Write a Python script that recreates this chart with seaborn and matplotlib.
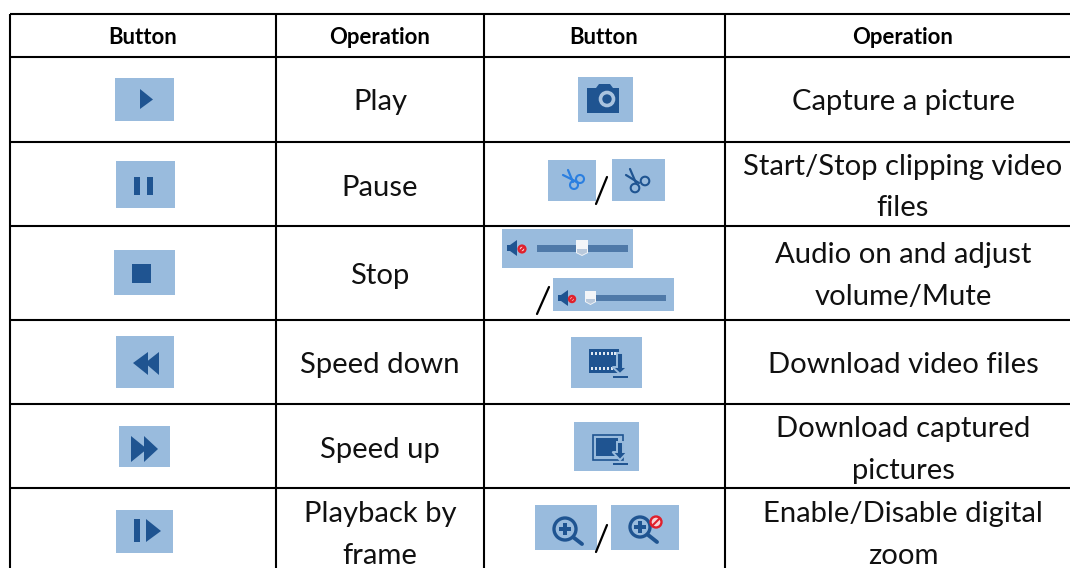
"""Button / Operation table"""

import matplotlib.pyplot as plt
from matplotlib.patches import Polygon, Rectangle, Circle
import seaborn as sns

headers = ["Button", "Operation", "Button", "Operation"]
left_ops = ["Play", "Pause", "Stop", "Speed down", "Speed up", "Playback by\nframe"]
right_ops = ["Capture a picture", "Start/Stop clipping video\nfiles", "Audio on and adjust\nvolume/Mute",
             "Download video files", "Download captured\npictures", "Enable/Disable digital\nzoom"]

col_edges = [10, 276, 484, 725]
row_edges = [14, 57, 142, 226, 320, 404, 488]
header_x = [143, 380, 604, 903]
row_y = [102, 187.5, 276, 365, 450, 535]

# x0, y0, x1, y1 of the light blue button boxes
left_boxes = [(115, 78, 174, 121), (116, 161, 175, 208), (114, 250, 175, 295),
              (116, 336, 174, 388), (119, 426, 170, 467), (116, 510, 173, 553)]
right_boxes = [(578, 77, 633, 122), (548, 160, 596, 201), (612, 159, 665, 201),
               (502, 229, 633, 268), (553, 278, 674, 311), (571, 337, 642, 388),
               (574, 422, 639, 471), (535, 505, 597, 550), (611, 505, 679, 550)]
slashes = [(596, 204, 607, 177), (537, 314, 549, 287), (596, 552, 607, 525)]

BOX = "#99bbdd"
DARK = "#1f5491"
RED = "#e0202c"

sns.set_theme(style="white")
plt.rcParams['font.family'] = ['Lato', 'DejaVu Sans']

fig, ax = plt.subplots(figsize=(10.70, 5.68), dpi=100)
fig.subplots_adjust(left=0, right=1, top=1, bottom=0)
ax.set_xlim(0, 1070)
ax.set_ylim(568, 0)
ax.axis("off")

ax.vlines(col_edges, row_edges[0], 568, color="black", lw=1.5)
ax.hlines(row_edges, col_edges[0], 1070, color="black", lw=1.5)

for x, h in zip(header_x, headers):
    ax.text(x, 37, h, ha="center", va="center", fontsize=15.9, fontweight="bold", color="black")

for i in range(6):
    ax.text(380, row_y[i], left_ops[i], ha="center", va="center", fontsize=21.1, color="#111111", linespacing=1.72)
    ax.text(903, row_y[i], right_ops[i], ha="center", va="center", fontsize=21.1, color="#111111", linespacing=1.72)

for x0, y0, x1, y1 in left_boxes + right_boxes:
    ax.add_patch(Rectangle((x0, y0), x1 - x0, y1 - y0, fc=BOX, ec="none"))

for x0, y0, x1, y1 in slashes:
    ax.plot([x0, x1], [y0, y1], color="black", lw=1.6)


def poly(pts, color=DARK, **kw):
    ax.add_patch(Polygon(pts, closed=True, fc=color, ec="none", **kw))


def rect(x, y, w, h, color=DARK):
    ax.add_patch(Rectangle((x, y), w, h, fc=color, ec="none"))


def ring(x, y, r, lw=2, color=DARK, fc="none"):
    ax.add_patch(Circle((x, y), r, fc=fc, ec=color, lw=lw))


def no_sign(x, y, r):
    ring(x, y, r, lw=1.7, color=RED, fc="#f6d5d8")
    ax.plot([x - r * 0.6, x + r * 0.6], [y + r * 0.6, y - r * 0.6], color=RED, lw=1.5)


def down_arrow(x, top, neck, tip, base):
    arrow = [(x - 3, top), (x + 3, top), (x + 3, neck), (x + 7.5, neck), (x, tip), (x - 7.5, neck), (x - 3, neck)]
    ax.add_patch(Polygon(arrow, closed=True, fc=DARK, ec=BOX, lw=1.4))
    rect(x - 7.5, base, 15, 1.8)


def slider(x0, x1, y, h, knob, kw, ktop, kbot, spk, no_x, no_r):
    poly([(spk, y - 3), (spk + 3, y - 3), (spk + 10, y - 8), (spk + 10, y + 8), (spk + 3, y + 3), (spk, y + 3)])
    no_sign(no_x, y + 1, no_r)
    rect(x0, y - h / 2, x1 - x0, h, "#4f79a8")
    poly([(knob - kw, ktop), (knob + kw, ktop), (knob + kw, kbot - 3), (knob, kbot), (knob - kw, kbot - 3)], "#f3f5f8")
    poly([(knob - kw + 1, y + 1), (knob + kw - 1, y + 1), (knob + kw - 1, kbot - 3.5), (knob, kbot - 1),
          (knob - kw + 1, kbot - 3.5)], "#b9c9dc")


# left column glyphs
poly([(140, 89), (153, 99.5), (140, 109)])
rect(134, 177, 6, 18); rect(147, 177, 6, 18)
rect(132, 264, 19, 19)
poly([(133, 363), (148, 352), (148, 375)]); poly([(145, 363), (159, 352), (159, 375)])
poly([(131, 436), (147, 449), (131, 462)]); poly([(144, 436), (158, 449), (144, 462)])
rect(134, 519, 6, 23); poly([(146, 519), (161, 531), (146, 542)])

# camera
poly([(587, 88), (596, 88), (599, 84), (610, 84), (613, 88), (619, 88), (619, 113), (587, 113)])
ring(607, 99, 6.5, lw=2.6, color="#a9c3df", fc=DARK)

# scissors
ring(574, 185, 4, lw=1.5, color="#2b7fe0")
ring(580, 179, 4, lw=1.5, color="#2b7fe0")
ax.plot([563, 577], [175, 182], color="#2b7fe0", lw=1.6)
ax.plot([568, 573], [170, 182], color="#2b7fe0", lw=1.6)
ring(635, 188, 4.3, lw=1.5)
ring(645, 181, 4.3, lw=1.5)
ax.plot([626, 639], [175, 183], color=DARK, lw=1.6)
ax.plot([630, 636], [169, 183], color=DARK, lw=1.6)

# volume sliders
slider(537, 628, 248, 7, 582, 6, 240, 256, 507, 522, 3.4)
slider(593, 666, 298, 6, 590.5, 5.5, 291, 305, 558, 572, 3)

# film download
rect(589, 349, 30, 24)
for k in range(7):
    rect(591 + k * 3.9, 352, 2.2, 3.2, "#dfe8f2"); rect(591 + k * 3.9, 367, 2.2, 3.2, "#dfe8f2")
down_arrow(620, 353, 367, 374, 376)

# picture download
ax.add_patch(Rectangle((592.5, 434.5), 30, 25.5, fc=BOX, ec=DARK, lw=1.2))
rect(596, 438, 22, 18)
down_arrow(620, 442, 452, 460, 463)

# zoom icons
for cx, cy, r, hx, hy in [(565, 529, 11, 582, 544), (640, 527, 10, 657, 542)]:
    ring(cx, cy, r, lw=2.4)
    rect(cx - 6, cy - 1.7, 12, 3.4); rect(cx - 1.7, cy - 6, 3.4, 12)
    ax.plot([cx + r * 0.75, hx], [cy + r * 0.75, hy], color=DARK, lw=2.8)
no_sign(656, 522, 5.5)

fig.savefig("out.png", dpi=100, facecolor="white")
